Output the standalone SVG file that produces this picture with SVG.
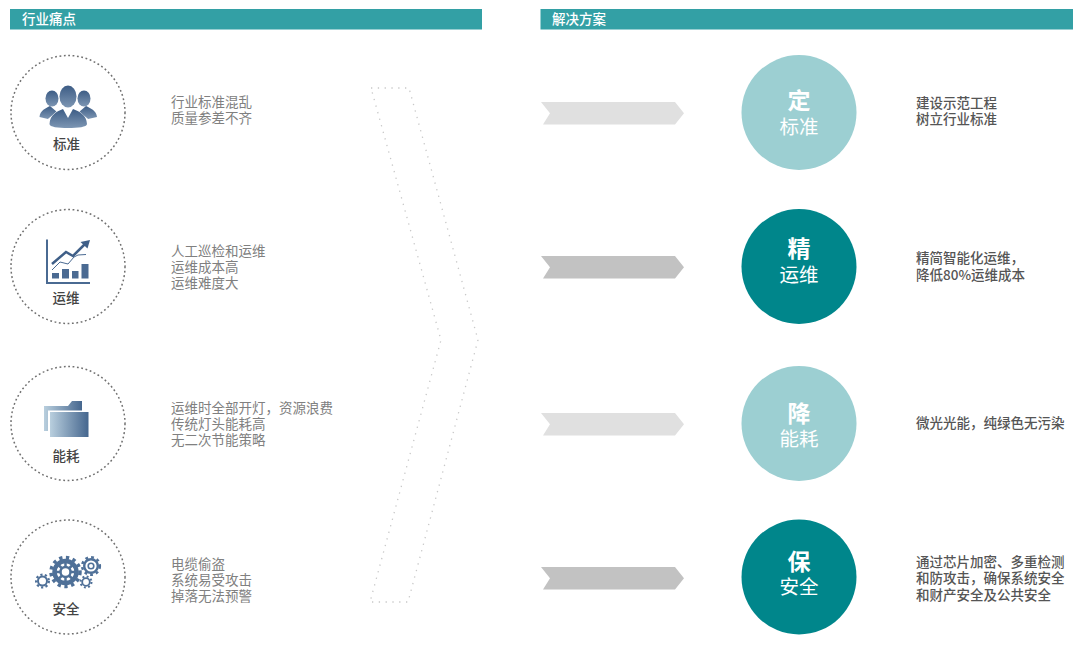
<svg xmlns="http://www.w3.org/2000/svg" width="1082" height="646" viewBox="0 0 1082 646">
<defs>
<linearGradient id="gv" x1="0" y1="0" x2="0" y2="1"><stop offset="0" stop-color="#3c5c85"/><stop offset="1" stop-color="#7d96b3"/></linearGradient>
<linearGradient id="gh" x1="0" y1="0" x2="1" y2="0"><stop offset="0" stop-color="#b9cfde"/><stop offset="1" stop-color="#45668e"/></linearGradient>
<path id="arrow" d="M541 0H675L684 11.2L675 22.4H543L550 11.2Z"/>
</defs>
<style>
text{font-family:"Noto Sans CJK SC","Noto Sans",sans-serif}
.hd{fill:#33a0a5}
.ht{fill:#fff;font-size:13.5px;font-weight:500}
.ring{fill:none;stroke:#707070;stroke-width:1.5;stroke-dasharray:1.8 2.6}
.lab{fill:#444;font-size:13.5px;font-weight:500;text-anchor:middle}
.desc{fill:#808080;font-size:13.5px}
.sol{fill:#555;font-size:13.5px;font-weight:500}
.big{fill:#fff;font-size:23px;font-weight:700;text-anchor:middle}
.sub{fill:#fff;font-size:19.5px;font-weight:400;text-anchor:middle}
.lt{fill:#9ccfd2}.dk{fill:#00868b}
.al{fill:#e0e0e0}.ad{fill:#c2c2c2}
.ic{fill:#4a6a92}
.gear{fill:none;stroke:#4f7098}
</style>
<rect width="1082" height="646" fill="#fff"/>

<g id="header-left"><rect class="hd" x="10" y="9" width="472" height="20.5"/><text class="ht" x="22" y="24">行业痛点</text></g>
<g id="header-right"><rect class="hd" x="540.500" y="9" width="532.500" height="20.500"/><text class="ht" x="552" y="24">解决方案</text></g>

<g id="connectors">
<path id="big-chevron" d="M371 88H409L478 340L408 602H370L441 340Z" fill="none" stroke="#c8c8c8" stroke-width="1.300" stroke-dasharray="1.300 5.500"/>
<use href="#arrow" y="102" class="al"/>
<use href="#arrow" y="256" class="ad"/>
<use href="#arrow" y="413" class="al"/>
<use href="#arrow" y="567" class="ad"/>
</g>

<g id="pain-standard">
<circle class="ring" cx="68" cy="112.500" r="57"/>
<g fill="url(#gv)">
<ellipse cx="52" cy="98.500" rx="6.500" ry="8"/><ellipse cx="84" cy="98.500" rx="6.500" ry="8"/>
<path d="M39.500 117C40 110.500 46 108 50 106L57 112L48 119Z"/>
<path d="M97 117C96.500 110.500 90 108 86 106L79 112L88 119Z"/>
</g>
<path d="M46 121L58 110L68 100L78 110L90 121L80 130H56Z" fill="#fff"/>
<g fill="url(#gv)">
<ellipse cx="68" cy="96.500" rx="8.500" ry="11"/>
<path d="M49.500 124C50 114.500 57 111.500 63 109L68 118L73 109C79 111.500 86.500 114.500 87 124C87 127 78 128 68 128C58 128 49.500 127 49.500 124Z"/>
</g>
<text class="lab" x="66.500" y="149">标准</text>
<g><text class="desc" x="171" y="107">行业标准混乱</text><text class="desc" x="171" y="123">质量参差不齐</text></g>
</g>

<g id="pain-ops">
<circle class="ring" cx="68" cy="266.500" r="57"/>
<path d="M47 239.500V283H90" fill="none" stroke="#4a6a92" stroke-width="2"/>
<g class="ic"><rect x="52" y="273" width="7" height="5.500"/><rect x="62" y="269" width="7" height="9.500"/><rect x="72" y="271" width="6.500" height="7.500"/><rect x="81.500" y="264" width="7" height="14.500"/></g>
<path d="M52 264L66 252L73 256L85 244" fill="none" stroke="#3f5f88" stroke-width="2.500"/>
<path d="M90 240L80.500 242L87.500 248.500Z" fill="#3f5f88"/>
<path d="M52 270L60 262L68 264L74 257L78 255L86 254.500" fill="none" stroke="#4a6a92" stroke-width="1"/>
<text class="lab" x="66" y="303">运维</text>
<text class="desc" x="171" y="256">人工巡检和运维</text><text class="desc" x="171" y="272">运维成本高</text><text class="desc" x="171" y="288">运维难度大</text>
</g>

<g id="pain-energy">
<circle class="ring" cx="68" cy="423.500" r="57"/>
<path d="M44 406H68L72 401H82V431H44Z" fill="url(#gh)"/>
<rect x="48" y="410.500" width="40" height="27" fill="#fff"/>
<rect x="50" y="412" width="38.500" height="25" fill="url(#gh)"/>
<text class="lab" x="66" y="461">能耗</text>
<text class="desc" x="171" y="413">运维时全部开灯，资源浪费</text><text class="desc" x="171" y="429">传统灯头能耗高</text><text class="desc" x="171" y="445">无二次节能策略</text>
</g>

<g id="pain-security">
<circle class="ring" cx="68" cy="577" r="57"/>
<g class="gear">
<circle cx="65.500" cy="572" r="14.500" stroke-width="3.500" stroke-dasharray="3.300 3.530"/>
<circle cx="65.500" cy="572" r="11" stroke-width="4.500"/>
<circle cx="65.500" cy="572" r="5" stroke-width="2.500"/>
<path d="M65.500 561V567M65.500 577V583M54.500 572H60.500M70.500 572H76.500M57.500 564L62 568.500M69 575.500L73.500 580M57.500 580L62 575.500M69 568.500L73.500 564" stroke-width="2.500"/>
<circle cx="91" cy="566" r="8.800" stroke-width="2.600" stroke-dasharray="2.800 3.100"/>
<circle cx="91" cy="566" r="6.800" stroke-width="2.400"/>
<circle cx="91" cy="566" r="2.800" stroke-width="1.600"/>
<circle cx="42.500" cy="581" r="6.400" stroke-width="2.200" stroke-dasharray="2.200 2.330"/>
<circle cx="42.500" cy="581" r="4.500" stroke-width="2"/>
<circle cx="86" cy="582" r="5.500" stroke-width="2" stroke-dasharray="1.900 2.420"/>
<circle cx="86" cy="582" r="3.800" stroke-width="1.800"/>
</g>
<text class="lab" x="66" y="614">安全</text>
<text class="desc" x="171" y="569">电缆偷盗</text><text class="desc" x="171" y="585">系统易受攻击</text><text class="desc" x="171" y="601">掉落无法预警</text>
</g>

<g id="sol-standard">
<circle class="lt" cx="799" cy="112.500" r="57.500"/>
<text class="big" x="799" y="109">定</text><text class="sub" x="799" y="134">标准</text>
<text class="sol" x="916" y="108">建设示范工程</text><text class="sol" x="916" y="124">树立行业标准</text>
</g>
<g id="sol-ops">
<circle class="dk" cx="799" cy="266.500" r="57.500"/>
<text class="big" x="799" y="257">精</text><text class="sub" x="799" y="282">运维</text>
<text class="sol" x="916" y="263">精简智能化运维，</text><text class="sol" x="916" y="280">降低80%运维成本</text>
</g>
<g id="sol-energy">
<circle class="lt" cx="799" cy="423.500" r="57.500"/>
<text class="big" x="799" y="422">降</text><text class="sub" x="799" y="446">能耗</text>
<text class="sol" x="916" y="428">微光光能，纯绿色无污染</text>
</g>
<g id="sol-security">
<circle class="dk" cx="799" cy="577" r="57.500"/>
<text class="big" x="799" y="570">保</text><text class="sub" x="799" y="594">安全</text>
<text class="sol" x="916" y="567">通过芯片加密、多重检测</text><text class="sol" x="916" y="583">和防攻击，确保系统安全</text><text class="sol" x="916" y="600">和财产安全及公共安全</text>
</g>
</svg>
